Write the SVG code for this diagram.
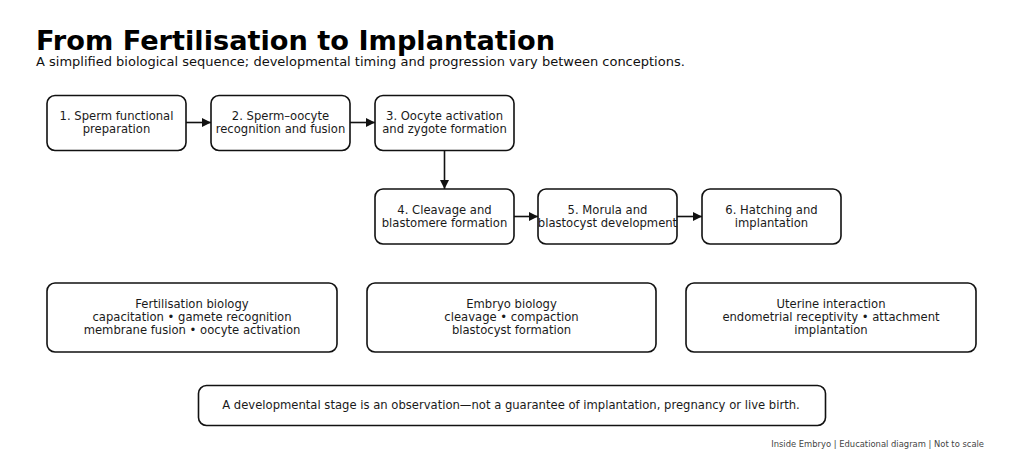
<svg xmlns="http://www.w3.org/2000/svg" width="1024" height="460" viewBox="0 0 1024 460">
<style>
.box{fill:#fff;stroke:#111;stroke-width:1.6}
.t{font-family:"DejaVu Sans",sans-serif;font-size:11.6px;fill:#1a1a1a;text-anchor:middle}
.c{stroke:#111;stroke-width:1.6;fill:none;marker-end:url(#ah)}
</style>
<defs>
<marker id="ah" viewBox="0 0 10 10" refX="10" refY="5" markerWidth="9" markerHeight="9" orient="auto" markerUnits="userSpaceOnUse"><path d="M0,0 L10,5 L0,10 z" fill="#111"/></marker>
</defs>
<rect width="1024" height="460" fill="#fff"/>
<text x="36" y="50" font-family="DejaVu Sans, sans-serif" font-weight="bold" font-size="27.2" fill="#000">From Fertilisation to Implantation</text>
<text x="36" y="66" font-family="DejaVu Sans, sans-serif" font-size="13" fill="#111">A simplified biological sequence; developmental timing and progression vary between conceptions.</text>
<g id="connectors">
<line class="c" x1="186" y1="122.5" x2="211" y2="122.5"/>
<line class="c" x1="350" y1="122.5" x2="375" y2="122.5"/>
<line class="c" x1="444.5" y1="150" x2="444.5" y2="189"/>
<line class="c" x1="514" y1="216.5" x2="538" y2="216.5"/>
<line class="c" x1="677" y1="216.5" x2="702" y2="216.5"/>
</g>
<g id="n1"><rect class="box" x="47" y="95.5" width="139" height="55" rx="8"/><text class="t" x="116.5" y="120">1. Sperm functional</text><text class="t" x="116.5" y="133">preparation</text></g>
<g id="n2"><rect class="box" x="211" y="95.5" width="139" height="55" rx="8"/><text class="t" x="280.5" y="120">2. Sperm–oocyte</text><text class="t" x="280.5" y="133">recognition and fusion</text></g>
<g id="n3"><rect class="box" x="375" y="95.5" width="139" height="55" rx="8"/><text class="t" x="444.5" y="120">3. Oocyte activation</text><text class="t" x="444.5" y="133">and zygote formation</text></g>
<g id="n4"><rect class="box" x="375" y="189" width="139" height="55" rx="8"/><text class="t" x="444.5" y="214">4. Cleavage and</text><text class="t" x="444.5" y="227">blastomere formation</text></g>
<g id="n5"><rect class="box" x="538" y="189" width="139" height="55" rx="8"/><text class="t" x="607.5" y="214">5. Morula and</text><text class="t" x="607.5" y="227">blastocyst development</text></g>
<g id="n6"><rect class="box" x="702" y="189" width="139" height="55" rx="8"/><text class="t" x="771.5" y="214">6. Hatching and</text><text class="t" x="771.5" y="227">implantation</text></g>
<g id="s1"><rect class="box" x="47" y="283" width="290" height="69" rx="8"/><text class="t" x="192" y="308">Fertilisation biology</text><text class="t" x="192" y="321">capacitation • gamete recognition</text><text class="t" x="192" y="334">membrane fusion • oocyte activation</text></g>
<g id="s2"><rect class="box" x="367" y="283" width="289" height="69" rx="8"/><text class="t" x="511.5" y="308">Embryo biology</text><text class="t" x="511.5" y="321">cleavage • compaction</text><text class="t" x="511.5" y="334">blastocyst formation</text></g>
<g id="s3"><rect class="box" x="686" y="283" width="290" height="69" rx="8"/><text class="t" x="831" y="308">Uterine interaction</text><text class="t" x="831" y="321">endometrial receptivity • attachment</text><text class="t" x="831" y="334">implantation</text></g>
<g id="note"><rect class="box" x="198.5" y="385.5" width="627" height="40" rx="8"/><text class="t" x="511" y="409">A developmental stage is an observation—not a guarantee of implantation, pregnancy or live birth.</text></g>
<text x="984" y="447" font-family="DejaVu Sans, sans-serif" font-size="8.4" fill="#444" text-anchor="end">Inside Embryo | Educational diagram | Not to scale</text>
</svg>
